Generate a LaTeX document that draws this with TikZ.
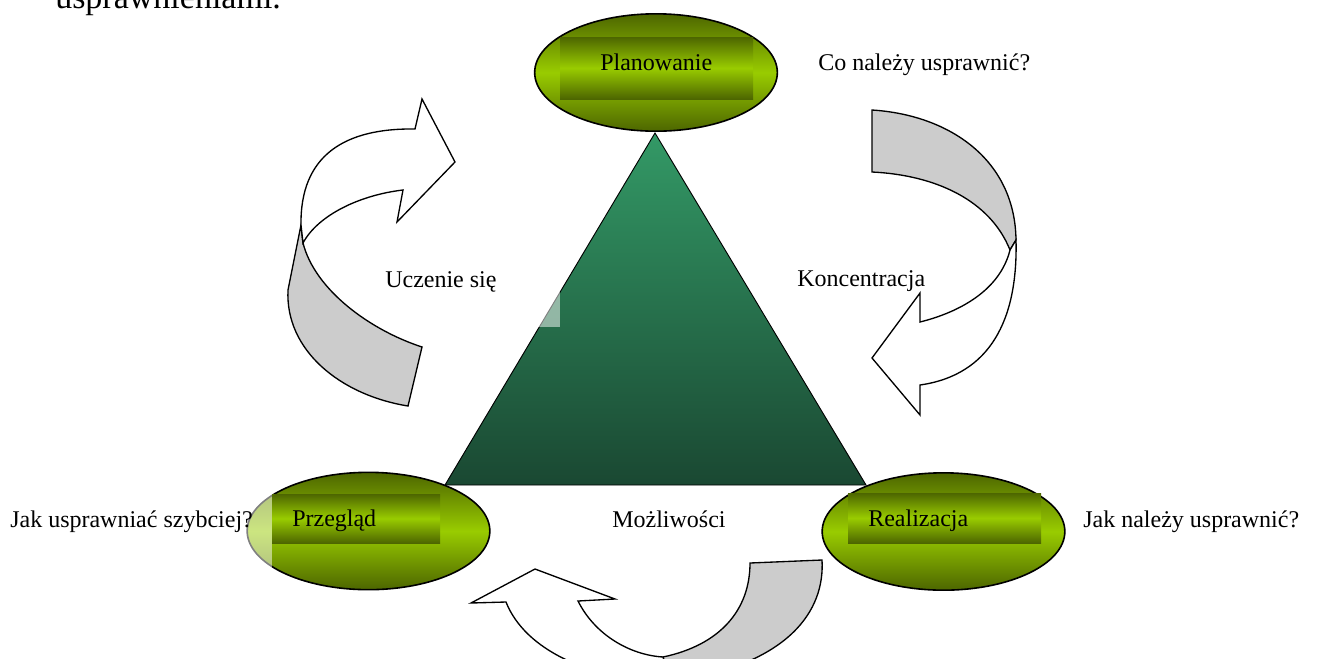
\documentclass[tikz,border=0pt]{standalone}
\usepackage{fontspec}
\setmainfont{Liberation Serif}
\usetikzlibrary{shapes.geometric}
\definecolor{olivedark}{RGB}{77,102,0}
\definecolor{limebright}{RGB}{153,204,0}
\definecolor{tritop}{RGB}{51,153,102}
\definecolor{tribottom}{RGB}{26,72,50}
\definecolor{foldgray}{RGB}{204,204,204}

\begin{document}
\begin{tikzpicture}[x=0.75pt,y=-0.75pt,
  stage/.style={ellipse, draw, line width=1.2pt, inner sep=0pt,
    minimum width=182pt, minimum height=88pt,
    top color=olivedark, bottom color=olivedark, middle color=limebright},
  band/.style={top color=olivedark, bottom color=olivedark, middle color=limebright},
  caption/.style={anchor=base west, inner sep=0pt, font=\fontsize{18}{21}\selectfont},
  fold/.style={fill=foldgray, draw, line width=1pt},
  face/.style={fill=white, draw, line width=1pt},
  haze/.style={fill=white, opacity=0.5}]

\useasboundingbox (0,0) rectangle (1327,658);
\clip (0,0) rectangle (1327,658);

% end of the sentence above the figure
\node[anchor=base west, inner sep=0pt, font=\fontsize{25.5}{30}\selectfont] (head) at (55,8.5) {usprawnieniami.};

% triangle
\shade[top color=tritop, bottom color=tribottom, draw, line width=0.7pt]
  (655,133) -- (866,485) -- (445,485) -- cycle;
\fill[haze] (538,292) rectangle (560,327);

% left arrow
\draw[fold] (301,225) -- (288,290) .. controls (285,350) and (340,395) .. (408,406)
  -- (422,347) .. controls (370,330) and (315,290) .. (303,243) -- cycle;
\draw[face] (301,225) .. controls (300,155) and (345,128) .. (415,129)
  -- (422,99) -- (455,162) -- (397,222) -- (403,190)
  .. controls (360,195) and (318,215) .. (303,243) -- cycle;

% right arrow
\draw[fold] (872,110) .. controls (950,115) and (1015,160) .. (1016,240)
  -- (1010,250) .. controls (990,200) and (935,175) .. (872,172) -- cycle;
\draw[face] (1016,240) .. controls (1018,320) and (990,375) .. (920,385)
  -- (920,415) -- (872,358) -- (920,293) -- (920,322)
  .. controls (960,312) and (1000,290) .. (1010,250) -- cycle;

% bottom arrow
\draw[fold] (663,657) .. controls (720,645) and (750,610) .. (750,563)
  -- (822,560) .. controls (825,610) and (790,665) .. (670,682) -- cycle;
\draw[face] (506,602) -- (471,603) -- (535,569) -- (615,599) -- (578,601)
  .. controls (595,635) and (630,655) .. (663,657) -- (670,682)
  .. controls (590,680) and (525,650) .. (506,602) -- cycle;

% stages
\node[stage] (ovalplan) at (656,72.5) {};
\shade[band] (560,37) rectangle (753,99);
\node[stage] (ovalreview) at (368.5,531) {};
\shade[band] (272,494) rectangle (440,543);
\fill[haze] (240,468) rectangle (272,595);
\node[stage] (ovalreal) at (943.5,531.5) {};
\shade[band] (848,493) rectangle (1041,543);

\node[caption] (plan) at (600,70) {Planowanie};
\node[caption] (review) at (292,526) {Przegląd};
\node[caption] (real) at (868,526) {Realizacja};

\node[caption] (qplan) at (818,70) {Co należy usprawnić?};
\node[caption] (learn) at (385,287) {Uczenie się};
\node[caption] (focus) at (797,286) {Koncentracja};
\node[caption] (qreview) at (10,527) {Jak usprawniać szybciej?};
\node[caption] (chances) at (612,527) {Możliwości};
\node[caption] (qreal) at (1083,527) {Jak należy usprawnić?};

\end{tikzpicture}
\end{document}
